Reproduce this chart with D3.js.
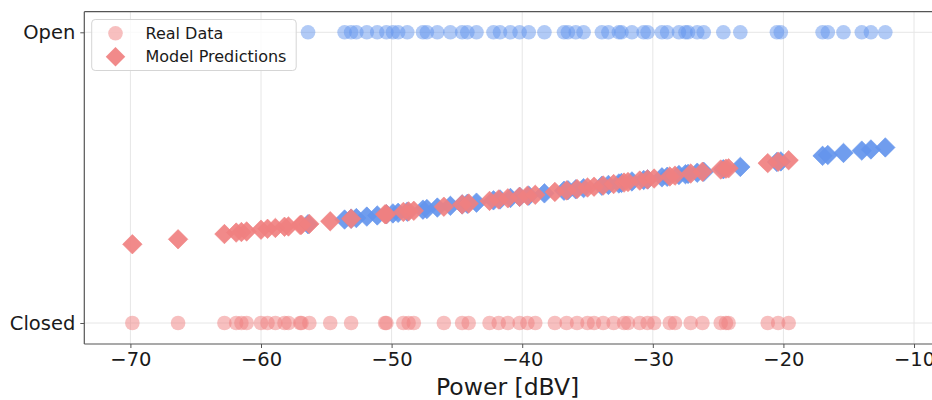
<!DOCTYPE html>
<html>
<head>
<meta charset="utf-8">
<script src="https://cdn.jsdelivr.net/npm/d3@7"></script>
<style>
  html, body { margin: 0; padding: 0; background: #fff; }
  svg { display: block; font-family: "DejaVu Sans", sans-serif; }
</style>
</head>
<body>
<svg id="chart" width="932" height="400"></svg>
<script>
// ---- data ----
const categories = ["Closed", "Open"];
const xTicks = [-70, -60, -50, -40, -30, -20, -10];

// Power [dBV] of samples that were "Open"
const openPower = [-56.4, -53.6, -53.1, -52.7, -51.9, -51.1, -50.4, -49.9, -49.5, -48.8,
  -47.6, -47.3, -46.5, -45.5, -44.6, -44.2, -43.5, -42.2, -41.7, -40.9,
  -40.2, -39.5, -38.3, -36.8, -36.5, -35.9, -35.3, -33.9, -33.4, -32.6,
  -32.4, -31.6, -30.7, -30.4, -29.3, -28.9, -28.0, -27.5, -27.3, -26.6,
  -26.1, -24.6, -23.3, -20.5, -20.2, -17.0, -16.6, -15.4, -14.0, -13.3, -12.2];
// model predicted probability for the "Open" samples
const openPred = [0.340, 0.356, 0.359, 0.361, 0.366, 0.370, 0.374, 0.377, 0.379, 0.383,
  0.390, 0.392, 0.397, 0.403, 0.408, 0.410, 0.414, 0.422, 0.425, 0.430,
  0.434, 0.438, 0.446, 0.455, 0.457, 0.460, 0.464, 0.472, 0.475, 0.480,
  0.482, 0.487, 0.492, 0.494, 0.501, 0.503, 0.509, 0.512, 0.513, 0.517,
  0.520, 0.529, 0.537, 0.554, 0.556, 0.575, 0.578, 0.585, 0.593, 0.597, 0.604];

// Power [dBV] of samples that were "Closed"
const closedPower = [-69.85, -66.35, -62.8, -61.9, -61.5, -61.1, -60.0, -59.5, -58.9, -58.2,
  -57.9, -57.0, -56.9, -56.3, -54.7, -53.1, -50.5, -50.4, -49.1, -48.7,
  -48.3, -46.0, -44.6, -44.1, -42.5, -41.8, -41.1, -40.2, -39.6, -39.0,
  -37.5, -36.6, -35.8, -35.0, -34.5, -33.8, -33.0, -32.2, -31.9, -31.0,
  -30.4, -29.9, -28.7, -28.3, -27.1, -26.2, -24.8, -24.4, -24.2, -21.2, -20.4, -19.6];
// model predicted probability for the "Closed" samples
const closedPred = [0.271, 0.288, 0.306, 0.311, 0.313, 0.315, 0.321, 0.324, 0.327, 0.331,
  0.332, 0.337, 0.338, 0.341, 0.350, 0.359, 0.374, 0.374, 0.382, 0.384,
  0.386, 0.400, 0.408, 0.411, 0.420, 0.425, 0.429, 0.434, 0.438, 0.441,
  0.451, 0.456, 0.461, 0.466, 0.469, 0.473, 0.478, 0.483, 0.485, 0.490,
  0.494, 0.497, 0.504, 0.507, 0.514, 0.520, 0.528, 0.531, 0.532, 0.550, 0.555, 0.560];

const legendLabels = ["Real Data", "Model Predictions"];
const xLabel = "Power [dBV]";

// ---- layout ----
const plot = { left: 84.3, right: 934, top: 11.7, bottom: 344 };
const BLUE = "#6495ED", RED = "#F08080";

const svg = d3.select("#chart");

const x = d3.scaleLinear().domain([-73.53, -8.47]).range([plot.left, plot.right]);
const y = d3.scaleLinear().domain([-0.0722, 1.0709]).range([plot.bottom, plot.top]);

// grid
const grid = svg.append("g");
grid.selectAll("line.vx").data(xTicks).join("line")
  .attr("x1", d => x(d)).attr("x2", d => x(d))
  .attr("y1", plot.top).attr("y2", plot.bottom)
  .attr("stroke", "#e6e6e6").attr("stroke-width", 1);
grid.selectAll("line.hy").data([0, 1]).join("line")
  .attr("x1", plot.left).attr("x2", plot.right)
  .attr("y1", d => y(d)).attr("y2", d => y(d))
  .attr("stroke", "#e6e6e6").attr("stroke-width", 1);

// real data circles
const real = svg.append("g");
real.selectAll("circle.o").data(openPower).join("circle")
  .attr("cx", d => x(d)).attr("cy", y(1)).attr("r", 7.3)
  .attr("fill", BLUE).attr("fill-opacity", 0.5);
real.selectAll("circle.c").data(closedPower).join("circle")
  .attr("cx", d => x(d)).attr("cy", y(0)).attr("r", 7.3)
  .attr("fill", RED).attr("fill-opacity", 0.5);

// predictions (diamonds), interleaved drawing order
const preds = [];
const n = Math.max(openPower.length, closedPower.length);
for (let i = 0; i < n; i++) {
  if (i < closedPower.length) preds.push({ p: closedPower[i], v: closedPred[i], c: RED });
  if (i < openPower.length) preds.push({ p: openPower[i], v: openPred[i], c: BLUE });
}
const dsym = d3.symbol().type(d3.symbolSquare).size(190);
svg.append("g").selectAll("path").data(preds).join("path")
  .attr("d", dsym)
  .attr("transform", d => `translate(${x(d.p)},${y(d.v)}) rotate(45)`)
  .attr("fill", d => d.c).attr("fill-opacity", 0.92)
  .attr("stroke", d => d.c).attr("stroke-opacity", 0.7).attr("stroke-width", 0.8);

// spines
svg.append("line").attr("x1", plot.left).attr("x2", plot.left).attr("y1", plot.top).attr("y2", plot.bottom)
  .attr("stroke", "#555").attr("stroke-width", 1.2);
svg.append("line").attr("x1", plot.left).attr("x2", plot.right).attr("y1", plot.bottom).attr("y2", plot.bottom)
  .attr("stroke", "#555").attr("stroke-width", 1.2);
svg.append("line").attr("x1", plot.left).attr("x2", plot.right).attr("y1", plot.top).attr("y2", plot.top)
  .attr("stroke", "#555").attr("stroke-width", 1.2);

// axes
const xAxis = d3.axisBottom(x).tickValues(xTicks).tickSize(4).tickPadding(4)
  .tickFormat(d => d3.format("d")(d).replace("-", "\u2212"));
const gx = svg.append("g").attr("transform", `translate(0,${plot.bottom})`).call(xAxis);
gx.select(".domain").remove();
gx.selectAll(".tick line").attr("stroke", "#555");
gx.selectAll(".tick text").attr("fill", "#1a1a1a").attr("font-size", "19.5px")
  .attr("font-family", "DejaVu Sans").attr("dy", "0.71em").attr("y", 8);

const yAxis = d3.axisLeft(y).tickValues([0, 1]).tickSize(4).tickPadding(5)
  .tickFormat(d => categories[d]);
const gy = svg.append("g").attr("transform", `translate(${plot.left},0)`).call(yAxis);
gy.select(".domain").remove();
gy.selectAll(".tick line").attr("stroke", "#555");
gy.selectAll(".tick text").attr("fill", "#1a1a1a").attr("font-size", "19.5px")
  .attr("font-family", "DejaVu Sans");

// x label
svg.append("text").attr("x", (plot.left + 931) / 2).attr("y", 395)
  .attr("text-anchor", "middle").attr("font-size", "23.5px").attr("fill", "#1a1a1a")
  .text(xLabel);

// legend
const lg = svg.append("g");
lg.append("rect").attr("x", 91.7).attr("y", 19.5).attr("width", 204.5).attr("height", 51)
  .attr("rx", 3.5).attr("fill", "#fff").attr("fill-opacity", 0.8)
  .attr("stroke", "#d5d5d5").attr("stroke-width", 1);
lg.append("circle").attr("cx", 115.5).attr("cy", 33.3).attr("r", 7.3)
  .attr("fill", RED).attr("fill-opacity", 0.5);
lg.append("path").attr("d", dsym)
  .attr("transform", "translate(115.5,56.7) rotate(45)")
  .attr("fill", RED).attr("fill-opacity", 0.92);
lg.selectAll("text").data(legendLabels).join("text")
  .attr("x", 145.5).attr("y", (d, i) => 33.3 + i * 23.4)
  .attr("dy", "0.36em").attr("font-size", "16px").attr("fill", "#1a1a1a")
  .text(d => d);
</script>
</body>
</html>
